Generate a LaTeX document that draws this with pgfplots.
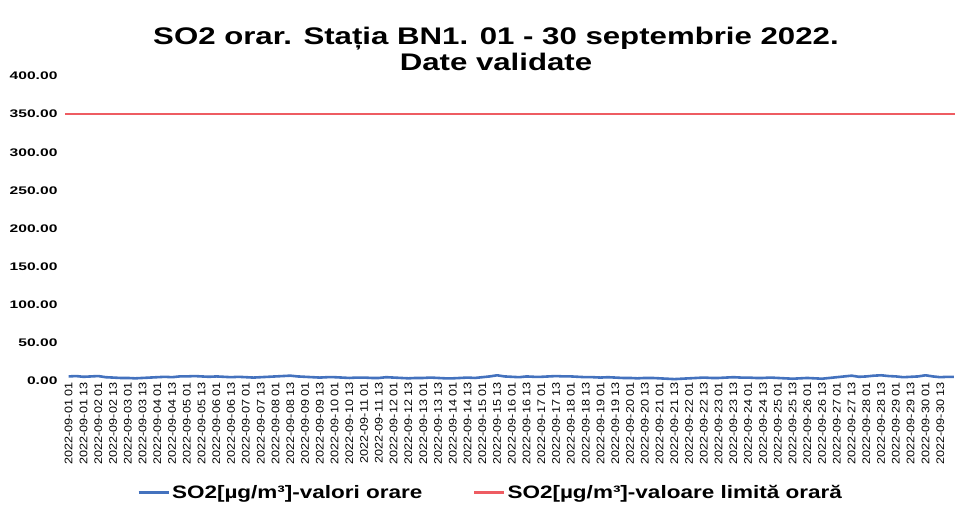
\documentclass[border=0pt]{standalone}
\usepackage{pgfplots}
\pgfplotsset{compat=1.18}
\usepackage{fontspec}
\setmainfont{Liberation Sans}
\newfontfamily\titlefont[FakeStretch=1.3]{Liberation Sans}
\newfontfamily\ytfont[FakeStretch=1.42]{Liberation Sans}
\newfontfamily\legfont[FakeStretch=1.25]{Liberation Sans}
\newfontfamily\xtfont[FakeStretch=1.15]{Liberation Sans}
\definecolor{soblue}{RGB}{68,114,190}
\definecolor{sored}{RGB}{238,92,98}
\begin{document}
\begin{tikzpicture}[x=1pt,y=1pt]
\useasboundingbox (0,0) rectangle (968,515);
\fill[white] (0,0) rectangle (968,515);
\node[font=\titlefont\bfseries\fontsize{24}{26}\selectfont, anchor=base] at (496,470) {SO2 orar. Stația BN1. 01 - 30 septembrie 2022.};
\node[font=\titlefont\bfseries\fontsize{24}{26}\selectfont, anchor=base] at (496,444) {Date validate};
\begin{axis}[
  at={(65pt,134pt)}, anchor=south west,
  scale only axis, width=890pt, height=305pt,
  xmin=-3, xmax=720, ymin=0, ymax=400,
  ytick={0,50,...,400},
  yticklabel={\pgfmathprintnumber[fixed,fixed zerofill,precision=2,assume math mode=true]{\tick}},
  yticklabel style={font=\ytfont\bfseries\fontsize{11}{12}\selectfont, anchor=east, xshift=-4pt},
  xtick={0,12,...,708},
  xticklabels={
2022-09-01 01,2022-09-01 13,2022-09-02 01,2022-09-02 13,2022-09-03 01,2022-09-03 13,2022-09-04 01,2022-09-04 13,2022-09-05 01,2022-09-05 13,
2022-09-06 01,2022-09-06 13,2022-09-07 01,2022-09-07 13,2022-09-08 01,2022-09-08 13,2022-09-09 01,2022-09-09 13,2022-09-10 01,2022-09-10 13,
2022-09-11 01,2022-09-11 13,2022-09-12 01,2022-09-12 13,2022-09-13 01,2022-09-13 13,2022-09-14 01,2022-09-14 13,2022-09-15 01,2022-09-15 13,
2022-09-16 01,2022-09-16 13,2022-09-17 01,2022-09-17 13,2022-09-18 01,2022-09-18 13,2022-09-19 01,2022-09-19 13,2022-09-20 01,2022-09-20 13,
2022-09-21 01,2022-09-21 13,2022-09-22 01,2022-09-22 13,2022-09-23 01,2022-09-23 13,2022-09-24 01,2022-09-24 13,2022-09-25 01,2022-09-25 13,
2022-09-26 01,2022-09-26 13,2022-09-27 01,2022-09-27 13,2022-09-28 01,2022-09-28 13,2022-09-29 01,2022-09-29 13,2022-09-30 01,2022-09-30 13},
  xticklabel style={font=\xtfont\fontsize{11}{12}\selectfont, rotate=90, anchor=east, inner sep=1pt},
  axis line style={draw=none}, tick style={draw=none},
  legend columns=2,
  legend style={at={(0.478,-0.367)}, anchor=center, draw=none, fill=none,
    font=\legfont\bfseries\fontsize{18}{20}\selectfont, column sep=0pt,
    /tikz/every even column/.append style={column sep=48pt}},
  legend image code/.code={\draw[#1, line width=3pt] (0pt,0pt) -- (30pt,0pt);},
]
\addplot[soblue, line width=2.6pt, line join=round] coordinates {
(0,6)(6,6.5)(12,5.5)(18,6)
(24,6.5)(30,5)(36,4.5)(42,4)
(48,4)(54,3.5)(60,4)(66,4.5)
(72,5)(78,5.5)(84,5)(90,6)
(96,6)(102,6.5)(108,6)(114,5.5)
(120,6)(126,5.5)(132,5)(138,5.5)
(144,5)(150,4.5)(156,5)(162,5.5)
(168,6)(174,6.5)(180,7)(186,6)
(192,5.5)(198,5)(204,4.5)(210,5)
(216,5)(222,4.5)(228,4)(234,4.5)
(240,4.5)(246,4)(252,4)(258,5)
(264,4.5)(270,4)(276,3.5)(282,4)
(288,4)(294,4.5)(300,4)(306,3.5)
(312,3.5)(318,4)(324,4.5)(330,4)
(336,5)(342,6)(348,7.5)(354,6)
(360,5.5)(366,5)(372,6)(378,5.5)
(384,5.5)(390,6)(396,6.5)(402,6)
(408,6)(414,5.5)(420,5)(426,5)
(432,4.5)(438,5)(444,4.5)(450,4)
(456,4)(462,3.5)(468,4)(474,4)
(480,3.5)(486,3)(492,2.5)(498,3)
(504,3.5)(510,4)(516,4.5)(522,4)
(528,4)(534,4.5)(540,5)(546,4.5)
(552,4.5)(558,4)(564,4)(570,4.5)
(576,4)(582,3.5)(588,3)(594,3.5)
(600,4)(606,3.5)(612,3)(618,4)
(624,5)(630,6)(636,7)(642,5.5)
(648,6)(654,7)(660,7.5)(666,6.5)
(672,6)(678,5)(684,5.5)(690,6)
(696,7.5)(702,6)(708,5)(714,5.5)(719,5.5)
};
\addlegendentry{SO2[µg/m³]-valori orare}
\addplot[sored, line width=2.6pt] coordinates {(-3,350)(720,350)};
\addlegendentry{SO2[µg/m³]-valoare limită orară}
\end{axis}
\end{tikzpicture}
\end{document}
